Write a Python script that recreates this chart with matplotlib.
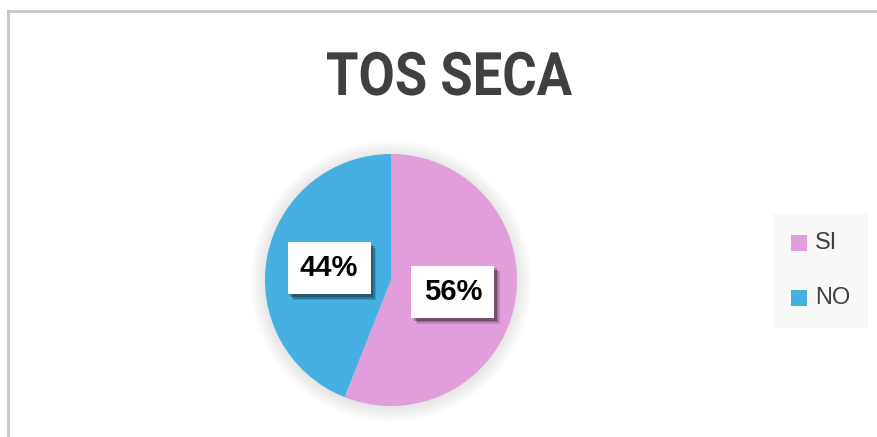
import matplotlib
matplotlib.use("Agg")
import matplotlib.pyplot as plt
import matplotlib.patheffects as pe
from matplotlib.lines import Line2D
from matplotlib.patches import Circle, Rectangle, PathPatch
from matplotlib.textpath import TextPath
from matplotlib.font_manager import FontProperties
from matplotlib.transforms import Affine2D, IdentityTransform

title = "TOS SECA"
labels = ["SI", "NO"]
values = [56, 44]
colors = ["#E29EDB", "#45B0E1"]

W, H = 877, 437
fig = plt.figure(figsize=(W / 100, H / 100), dpi=100)
fig.patch.set_facecolor("white")

# chart frame (only top and left edges are visible in the crop)
fig.add_artist(Line2D([8 / W, 8 / W], [0, 1 - 11 / H], color="#C6C6C6", lw=2))
fig.add_artist(Line2D([8 / W, 1], [1 - 11 / H, 1 - 11 / H], color="#C6C6C6", lw=2))

# condensed bold title: squeeze Roboto Bold horizontally
tp = TextPath((0, 0), title, size=60, prop=FontProperties(family="Roboto", weight="bold"))
ext = tp.get_extents()
sx = 245 / ext.width
tr = Affine2D().translate(-ext.x0, 0).scale(sx, 1).translate(327, H - 95)
fig.add_artist(PathPatch(tp, transform=tr + IdentityTransform(), facecolor="#404040",
                         edgecolor="none"))

# pie axes: center (391, 280) px, radius 126 px
cx, cy, R, half = 391, 280, 126, 165
ax = fig.add_axes([(cx - half) / W, (H - cy - half) / H, 2 * half / W, 2 * half / H])

# soft shadow around the pie
for i in range(12):
    r = 1.0 + 0.01 * (12 - i)
    ax.add_patch(Circle((0, -0.01), r, color="black", alpha=0.007, lw=0))

wedges, texts, autotexts = ax.pie(values, colors=colors, startangle=90, counterclock=False,
                                  autopct="%1.0f%%", pctdistance=0.5, radius=1.0,
                                  wedgeprops=dict(linewidth=0))
lim = half / R
ax.set_xlim(-lim, lim)
ax.set_ylim(-lim, lim)
ax.set_aspect("equal")
ax.axis("off")

for t in autotexts:
    t.set_fontsize(21)
    t.set_fontweight("bold")
    t.set_color("black")
    t.set_family(["Liberation Sans", "DejaVu Sans"])
    t.set_bbox(dict(boxstyle="square,pad=0.42", facecolor="white", edgecolor="none"))
    t.get_bbox_patch().set_path_effects([
        pe.SimplePatchShadow(offset=(4, -4), shadow_rgbFace="black", alpha=0.15),
        pe.SimplePatchShadow(offset=(3, -3), shadow_rgbFace="black", alpha=0.2),
        pe.SimplePatchShadow(offset=(2, -2), shadow_rgbFace="black", alpha=0.25),
        pe.Normal()])

# legend
fig.add_artist(Rectangle((773 / W, 1 - 328 / H), 95 / W, 114 / H, transform=fig.transFigure,
                         facecolor="#F8F8F8", edgecolor="none"))
for lab, col, y in zip(labels, colors, [243, 298]):
    fig.add_artist(Rectangle((791 / W, 1 - (y + 8) / H), 16 / W, 16 / H,
                             transform=fig.transFigure, facecolor=col, edgecolor="none"))
    fig.text(815 / W, 1 - y / H, lab, ha="left", va="center", fontsize=17,
             color="#404040", family=["Liberation Sans", "DejaVu Sans"])

fig.savefig("out.png", dpi=100)
